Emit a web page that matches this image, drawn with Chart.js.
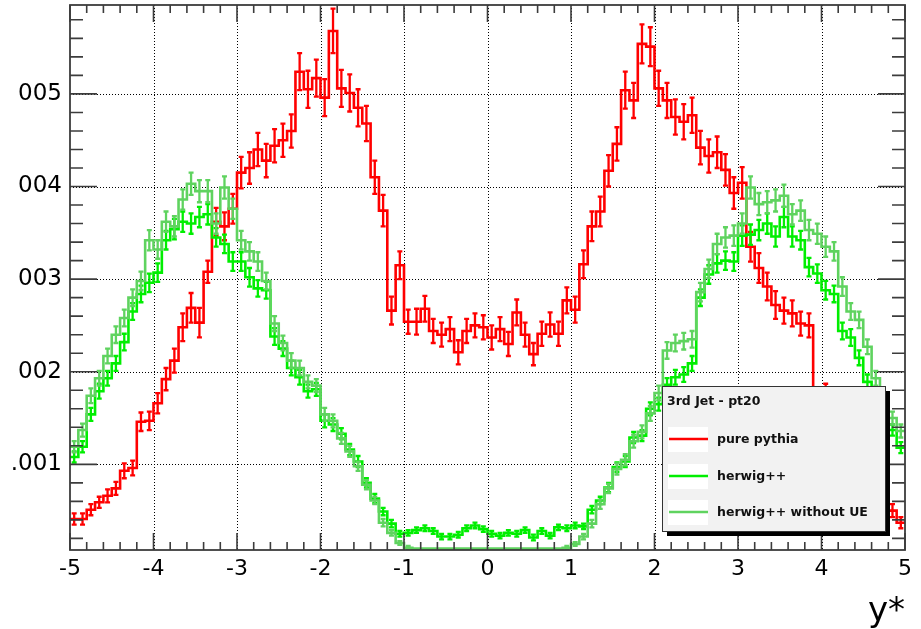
<!DOCTYPE html>
<html>
<head>
<meta charset="utf-8">
<script src="https://cdn.jsdelivr.net/npm/chart.js@4.4.0/dist/chart.umd.min.js"></script>
<style>
  html, body { margin: 0; padding: 0; background: #fff; }
</style>
</head>
<body>
<canvas id="c" width="921" height="629"></canvas>
<script>
// histogram binning: 100 bins of 0.1 from -5 to 5 (y values in units of 1e-3)
const binLow = -5;
const binWidth = 0.1;

const pythia = [
  0.41, 0.41, 0.51, 0.59, 0.66, 0.74, 0.93, 0.96, 1.46, 1.47,
  1.66, 1.92, 2.12, 2.48, 2.69, 2.53, 3.08, 3.62, 3.57, 3.76,
  4.15, 4.20, 4.40, 4.28, 4.44, 4.50, 4.60, 5.24, 5.05, 5.17,
  4.96, 5.68, 5.06, 5.01, 4.85, 4.68, 4.10, 3.74, 2.66, 3.15,
  2.54, 2.54, 2.68, 2.44, 2.40, 2.46, 2.21, 2.44, 2.50, 2.48,
  2.37, 2.46, 2.30, 2.64, 2.40, 2.19, 2.41, 2.51, 2.41, 2.77,
  2.67, 3.16, 3.57, 3.73, 4.17, 4.46, 5.04, 4.93, 5.54, 5.51,
  5.06, 4.93, 4.75, 4.70, 4.77, 4.42, 4.33, 4.37, 4.18, 3.93,
  4.04, 3.35, 3.12, 2.92, 2.72, 2.66, 2.63, 2.52, 2.50, 1.60,
  1.75, 1.50, 1.38, 1.22, 1.08, 0.92, 0.78, 0.64, 0.50, 0.37
];
const pythiaErr = [
  .06, .06, .06, .06, .07, .07, .08, .08, .10, .10,
  .11, .12, .13, .15, .16, .16, .12, .15, .15, .16,
  .17, .17, .18, .18, .18, .18, .18, .20, .20, .20,
  .20, .24, .20, .20, .20, .19, .18, .17, .15, .15,
  .13, .14, .14, .13, .13, .13, .13, .13, .13, .13,
  .13, .13, .13, .14, .13, .12, .13, .13, .13, .14,
  .14, .15, .16, .16, .17, .18, .20, .19, .21, .21,
  .19, .19, .19, .19, .19, .18, .18, .17, .17, .17,
  .17, .16, .16, .15, .15, .14, .14, .13, .13, .12,
  .12, .11, .11, .10, .10, .09, .08, .08, .07, .06
];

const herwig = [
  1.08, 1.19, 1.54, 1.79, 1.93, 2.09, 2.32, 2.65, 2.84, 2.96,
  3.07, 3.42, 3.54, 3.62, 3.60, 3.67, 3.70, 3.45, 3.38, 3.19,
  3.19, 3.02, 2.90, 2.88, 2.38, 2.25, 2.04, 1.94, 1.79, 1.81,
  1.47, 1.43, 1.33, 1.16, 1.03, 0.80, 0.63, 0.49, 0.36, 0.25,
  0.26, 0.29, 0.31, 0.28, 0.22, 0.22, 0.24, 0.31, 0.34, 0.30,
  0.25, 0.23, 0.26, 0.25, 0.29, 0.21, 0.28, 0.23, 0.32, 0.31,
  0.34, 0.33, 0.51, 0.61, 0.75, 0.97, 1.03, 1.29, 1.31, 1.60,
  1.65, 1.86, 1.94, 1.97, 2.09, 2.80, 3.05, 3.17, 3.20, 3.19,
  3.47, 3.48, 3.53, 3.60, 3.46, 3.67, 3.46, 3.42, 3.13, 3.06,
  2.88, 2.84, 2.44, 2.37, 2.15, 1.89, 1.75, 1.55, 1.37, 1.18
];
const herwigErr = [
  .06, .06, .07, .08, .08, .08, .09, .09, .09, .10,
  .10, .10, .11, .11, .11, .11, .11, .10, .10, .10,
  .10, .10, .09, .09, .09, .08, .08, .08, .07, .07,
  .07, .07, .06, .06, .06, .05, .05, .04, .04, .03,
  .03, .03, .03, .03, .03, .03, .03, .03, .03, .03,
  .03, .03, .03, .03, .03, .03, .03, .03, .03, .03,
  .03, .03, .04, .04, .05, .05, .06, .06, .06, .07,
  .07, .07, .08, .08, .08, .09, .10, .10, .10, .10,
  .11, .11, .11, .11, .11, .11, .11, .10, .10, .10,
  .10, .09, .09, .09, .08, .08, .07, .07, .06, .06
];

const herwigNoUE = [
  1.19, 1.37, 1.74, 1.93, 2.17, 2.40, 2.58, 2.80, 2.98, 3.42,
  3.32, 3.62, 3.57, 3.86, 4.03, 3.95, 3.95, 3.60, 3.99, 3.76,
  3.42, 3.30, 3.19, 2.98, 2.52, 2.31, 2.12, 2.04, 1.89, 1.85,
  1.54, 1.47, 1.28, 1.14, 0.98, 0.78, 0.61, 0.37, 0.26, 0.15,
  0.10, 0.09, 0.09, 0.09, 0.09, 0.09, 0.09, 0.09, 0.09, 0.09,
  0.09, 0.09, 0.09, 0.09, 0.09, 0.09, 0.09, 0.09, 0.09, 0.10,
  0.14, 0.22, 0.36, 0.57, 0.74, 0.95, 1.05, 1.25, 1.35, 1.55,
  1.77, 2.23, 2.31, 2.33, 2.35, 2.86, 3.11, 3.38, 3.45, 3.47,
  3.60, 3.99, 3.81, 3.83, 3.85, 3.90, 3.70, 3.74, 3.53, 3.49,
  3.35, 3.30, 2.92, 2.65, 2.56, 2.27, 1.93, 1.65, 1.50, 1.36
];
const herwigNoUEErr = [
  .06, .07, .08, .08, .08, .09, .09, .09, .10, .11,
  .10, .11, .11, .11, .12, .12, .12, .11, .12, .11,
  .10, .10, .10, .09, .08, .08, .08, .08, .07, .07,
  .07, .07, .06, .06, .05, .05, .04, .04, .03, .02,
  .02, 0, 0, 0, 0, 0, 0, 0, 0, 0,
  0, 0, 0, 0, 0, 0, 0, 0, 0, .02,
  .02, .03, .04, .05, .05, .06, .06, .07, .07, .08,
  .08, .09, .09, .09, .09, .10, .10, .11, .11, .11,
  .11, .12, .12, .12, .12, .12, .11, .11, .11, .11,
  .11, .10, .10, .09, .09, .08, .08, .07, .07, .07
];

const xTicks = [-5, -4, -3, -2, -1, 0, 1, 2, 3, 4, 5];
const xTickLabels = ['-5', '-4', '-3', '-2', '-1', '0', '1', '2', '3', '4', '5'];
const yTicks = [1, 2, 3, 4, 5];
const yTickLabels = ['.001', '002', '003', '004', '005'];
const legendTitle = '3rd Jet - pt20';

const FONT = 'DejaVu Sans';

// bin low edges plus closing edge -> step-before line draws the histogram outline
function histPoints(vals) {
  const pts = vals.map((v, i) => ({ x: binLow + i * binWidth, y: v }));
  pts.push({ x: binLow + vals.length * binWidth, y: vals[vals.length - 1] });
  return pts;
}

function hist(label, vals, errs, color, order) {
  return {
    label: label,
    data: histPoints(vals),
    values: vals,
    errors: errs,
    borderColor: color,
    borderWidth: 2.6,
    pointRadius: 0,
    stepped: true,
    fill: false,
    order: order
  };
}

// dotted grid under the data
const gridPlugin = {
  id: 'rootGrid',
  beforeDatasetsDraw(chart) {
    const { ctx, chartArea: a, scales: { x, y } } = chart;
    ctx.save();
    ctx.strokeStyle = '#000';
    ctx.lineWidth = 1;
    ctx.setLineDash([1, 2]);
    xTicks.slice(1, -1).forEach(v => {
      const px = Math.round(x.getPixelForValue(v)) + 0.5;
      ctx.beginPath(); ctx.moveTo(px, a.top); ctx.lineTo(px, a.bottom); ctx.stroke();
    });
    yTicks.forEach(v => {
      const py = Math.round(y.getPixelForValue(v)) + 0.5;
      ctx.beginPath(); ctx.moveTo(a.left, py); ctx.lineTo(a.right, py); ctx.stroke();
    });
    ctx.restore();
  }
};

// error bars with small caps, per dataset so layering follows the lines
const errorPlugin = {
  id: 'errBars',
  afterDatasetDraw(chart, args) {
    const ds = chart.data.datasets[args.index];
    if (!ds.errors) return;
    const { ctx, chartArea: a, scales: { x, y } } = chart;
    ctx.save();
    ctx.beginPath();
    ctx.rect(a.left, a.top, a.right - a.left, a.bottom - a.top);
    ctx.clip();
    ctx.strokeStyle = ds.borderColor;
    ctx.lineWidth = 2.3;
    ds.values.forEach((v, i) => {
      const e = ds.errors[i];
      if (!e) return;
      const px = x.getPixelForValue(binLow + (i + 0.5) * binWidth);
      const y1 = y.getPixelForValue(v - e);
      const y2 = y.getPixelForValue(v + e);
      ctx.beginPath();
      ctx.moveTo(px, y1); ctx.lineTo(px, y2);
      ctx.moveTo(px - 2.5, y1); ctx.lineTo(px + 2.5, y1);
      ctx.moveTo(px - 2.5, y2); ctx.lineTo(px + 2.5, y2);
      ctx.stroke();
    });
    ctx.restore();
  }
};

// frame with inward ticks on all four sides
const framePlugin = {
  id: 'rootFrame',
  afterDatasetsDraw(chart) {
    const { ctx, chartArea: a, scales: { x, y } } = chart;
    ctx.save();
    ctx.strokeStyle = '#3c3c3c';
    ctx.lineWidth = 1.6;
    ctx.beginPath();
    for (let v = -5; v <= 5.001; v += 0.2) {
      const major = Math.abs(v - Math.round(v)) < 1e-6;
      const len = major ? 17 : 8;
      const px = x.getPixelForValue(v);
      ctx.moveTo(px, a.bottom); ctx.lineTo(px, a.bottom - len);
      ctx.moveTo(px, a.top); ctx.lineTo(px, a.top + len);
    }
    for (let v = 0.2; v < y.max; v += 0.2) {
      const major = Math.abs(v - Math.round(v)) < 1e-6;
      const len = major ? 27 : 13;
      const py = y.getPixelForValue(v);
      ctx.moveTo(a.left, py); ctx.lineTo(a.left + len, py);
      ctx.moveTo(a.right, py); ctx.lineTo(a.right - len, py);
    }
    ctx.stroke();
    ctx.lineWidth = 1.8;
    ctx.strokeRect(a.left, a.top, a.right - a.left, a.bottom - a.top);
    ctx.restore();
  }
};

// ROOT style legend box with shadow
const legendPlugin = {
  id: 'rootLegend',
  afterDraw(chart) {
    const ctx = chart.ctx;
    const bx = 662, by = 386, bw = 223, bh = 145;
    ctx.save();
    ctx.fillStyle = '#000';
    ctx.fillRect(bx + 5, by + 5, bw, bh);
    ctx.fillStyle = '#f2f2f2';
    ctx.fillRect(bx, by, bw, bh);
    ctx.strokeStyle = '#333';
    ctx.lineWidth = 1;
    ctx.strokeRect(bx + 0.5, by + 0.5, bw, bh);

    ctx.fillStyle = '#111';
    ctx.font = 'bold 12.5px "' + FONT + '"';
    ctx.textBaseline = 'middle';
    ctx.textAlign = 'left';
    ctx.fillText(legendTitle, bx + 5, by + 16);

    const rows = [439, 476, 512];
    chart.data.datasets.forEach((ds, i) => {
      const cy = rows[i];
      ctx.fillStyle = '#fff';
      ctx.fillRect(bx + 6, cy - 12, 40, 25);
      ctx.strokeStyle = ds.borderColor;
      ctx.lineWidth = 2.5;
      ctx.beginPath();
      ctx.moveTo(bx + 7, cy); ctx.lineTo(bx + 46, cy);
      ctx.stroke();
      ctx.fillStyle = '#111';
      ctx.fillText(ds.label, bx + 55, cy + 1);
    });
    ctx.restore();
  }
};

new Chart(document.getElementById('c'), {
  type: 'line',
  data: {
    datasets: [
      hist('pure pythia', pythia, pythiaErr, '#ff0000', 3),
      hist('herwig++', herwig, herwigErr, '#00ee00', 2),
      hist('herwig++ without UE', herwigNoUE, herwigNoUEErr, '#5fd35f', 1)
    ]
  },
  options: {
    responsive: false,
    animation: false,
    events: [],
    layout: { padding: { left: 0, right: 16, top: 5, bottom: 0 } },
    plugins: {
      legend: { display: false },
      tooltip: { enabled: false }
    },
    scales: {
      x: {
        type: 'linear',
        min: -5,
        max: 5,
        afterBuildTicks: s => { s.ticks = xTicks.map(v => ({ value: v })); },
        afterFit: s => { s.height = 79; s.paddingLeft = 0; s.paddingRight = 0; },
        grid: { display: false, drawTicks: false },
        border: { display: false },
        ticks: {
          autoSkip: false,
          maxRotation: 0,
          padding: 6,
          color: '#000',
          font: { family: FONT, size: 22 },
          callback: (v, i) => xTickLabels[i]
        },
        title: {
          display: true,
          text: 'y*',
          align: 'end',
          color: '#000',
          font: { family: FONT, size: 34, lineHeight: 1 },
          padding: { top: 0, bottom: 0 }
        }
      },
      y: {
        type: 'linear',
        min: 0.075,
        max: 5.96,
        afterBuildTicks: s => { s.ticks = yTicks.map(v => ({ value: v })); },
        afterFit: s => { s.width = 70; s.paddingTop = 0; s.paddingBottom = 0; },
        grid: { display: false, drawTicks: false },
        border: { display: false },
        ticks: {
          padding: 8,
          color: '#000',
          font: { family: FONT, size: 23 },
          callback: (v, i) => yTickLabels[i]
        }
      }
    }
  },
  plugins: [gridPlugin, errorPlugin, framePlugin, legendPlugin]
});
</script>
</body>
</html>
